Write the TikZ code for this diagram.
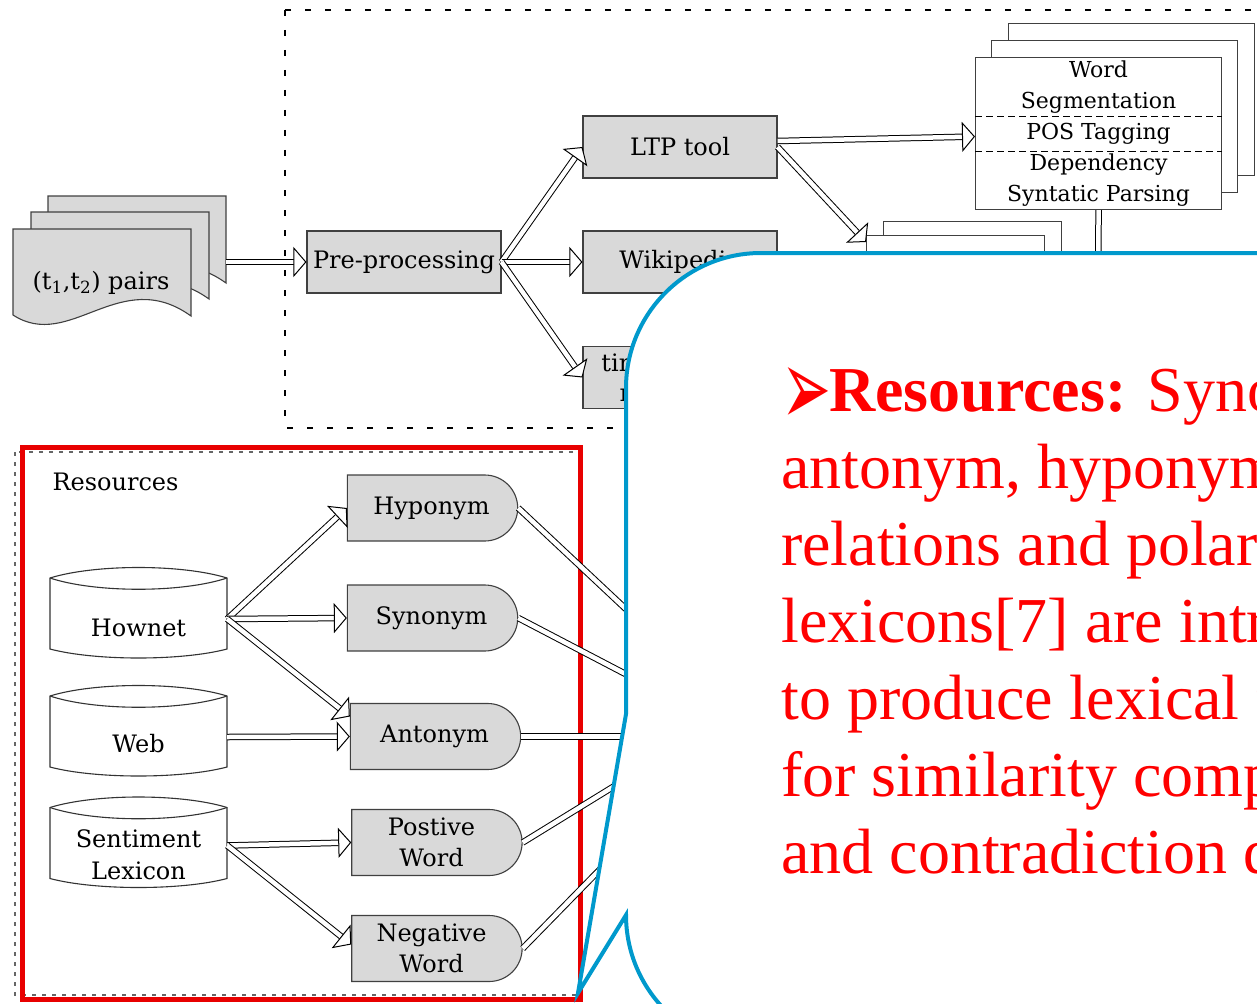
\documentclass[tikz,border=0pt]{standalone}
\usepackage{fontspec}
\setmainfont{DejaVu Serif}
\newfontfamily\timesfont{Liberation Serif}
\newfontfamily\dingfont{DejaVu Sans}
\usepackage{tikz}
\usetikzlibrary{arrows.meta}
\usetikzlibrary{shapes.misc}
\definecolor{boxgray}{RGB}{217,217,217}
\definecolor{calloutblue}{RGB}{0,153,204}
\definecolor{resred}{RGB}{232,0,0}

\tikzset{
  graybox/.style={rectangle, fill=boxgray, draw=black!75, line width=1.1pt,
    minimum width=194pt, minimum height=62pt, align=center,
    font=\fontsize{24}{30}\selectfont},
  whitebox/.style={rectangle, fill=white, draw=black!75, line width=1.1pt},
  dshape/.style={rounded rectangle, rounded rectangle west arc=none,
    fill=boxgray, draw=black!75, line width=1.1pt,
    minimum width=177pt, minimum height=66pt, align=center,
    font=\fontsize{24}{31}\selectfont},
  hollow/.style={double=white, double distance=4.5pt, line width=1pt,
    -{Triangle[fill=white, length=13pt, width=30pt]}},
  twoline/.style={double=white, double distance=4.5pt, line width=1pt},
}

\begin{document}
\begin{tikzpicture}[x=1pt, y=-1pt]
  \useasboundingbox (0,0) rectangle (1257,1003);
  \clip (0,0) rectangle (1257,1003);

  \draw[line width=2.5pt, dash pattern=on 6pt off 14pt] (285,10) rectangle (1300,428);

  \foreach \dx/\dy in {35/-33, 18/-17, 0/0}{
    \begin{scope}[shift={(\dx,\dy)}]
      \draw[fill=boxgray, draw=black!75, line width=1.1pt] (13,229) -- (191,229) -- (191,316)
        .. controls (120,265) and (70,352) .. (13,315) -- cycle;
    \end{scope}
  }
  \node[font=\fontsize{24}{30}\selectfont] (pairs) at (101,283) {(t\textsubscript{1},t\textsubscript{2}) pairs};
  \coordinate (docs) at (226,262);

  \node[graybox] (pre) at (404,262) {Pre-processing};
  \node[graybox] (ltp) at (680,147) {LTP tool};
  \node[graybox] (wiki) at (680,262) {Wikipedia};
  \node[graybox] (norm) at (680,377.5) {time/number\\normalize};

  \node[whitebox, minimum width=246pt, minimum height=152pt, anchor=north west] (ws-b2) at (1008,23) {};
  \node[whitebox, minimum width=246pt, minimum height=152pt, anchor=north west] (ws-b1) at (991,40) {};
  \node[whitebox, minimum width=246pt, minimum height=152pt, anchor=north west, inner sep=1pt,
    align=center, font=\fontsize{22}{31}\selectfont] (ws) at (975,57)
    {Word\\Segmentation\\POS Tagging\\Dependency\\Syntatic Parsing};
  \draw[line width=1pt, dash pattern=on 7pt off 4pt] ([yshift=-60pt]ws.north west) -- ([yshift=-60pt]ws.north east);
  \draw[line width=1pt, dash pattern=on 7pt off 4pt] ([yshift=-95pt]ws.north west) -- ([yshift=-95pt]ws.north east);

  \node[whitebox, minimum width=178pt, minimum height=150pt, anchor=north west] (st-b2) at (883,221) {};
  \node[whitebox, minimum width=178pt, minimum height=150pt, anchor=north west] (st-b1) at (866,235) {};
  \node[whitebox, minimum width=178pt, minimum height=150pt, anchor=north west] (st) at (852,251) {};
  \coordinate (ws-down) at (1098,330);

  \draw[hollow] (docs) -- (pre.west);
  \draw[hollow] (pre.east) -- (ltp.west);
  \draw[hollow] (pre.east) -- (wiki.west);
  \draw[hollow] (pre.east) -- (norm.west);
  \draw[hollow] ([yshift=6pt]ltp.east) -- ([yshift=-3pt]ws.west);
  \draw[hollow] (ltp.east) -- ([yshift=-7pt]st-b1.north west);
  \draw[twoline] (ws.south) -- (ws-down);

  \draw[black!60, line width=2pt, dash pattern=on 4pt off 6pt] (15,452) rectangle (581,995);
  \draw[resred, line width=5pt] (22,447) rectangle (580,999);
  \node[anchor=west, font=\fontsize{24}{30}\selectfont] (reslabel) at (49,482) {Resources};

  \foreach \nm/\yc in {hownet/613, web/731, senti/842.5}{
    \draw[fill=white, draw=black!80, line width=1.1pt] (50,\yc-35) -- (50,\yc+36)
      .. controls (95,\yc+48) and (182,\yc+48) .. (227,\yc+36) -- (227,\yc-35)
      .. controls (182,\yc-49) and (95,\yc-49) .. cycle;
    \draw[draw=black!80, line width=1.1pt] (50,\yc-35) .. controls (95,\yc-20) and (182,\yc-20) .. (227,\yc-35);
    \node[minimum width=177pt, minimum height=89pt] (\nm) at (138.5,\yc) {};
  }
  \node[font=\fontsize{24}{30}\selectfont] (hownet-l) at (138.5,628) {Hownet};
  \node[font=\fontsize{24}{30}\selectfont] (web-l) at (138.5,744) {Web};
  \node[font=\fontsize{24}{32}\selectfont, align=center] (senti-l) at (138.5,855) {Sentiment\\Lexicon};

  \node[dshape] (hyp) at (431.5,508) {Hyponym};
  \node[dshape] (syn) at (431.5,618) {Synonym};
  \node[dshape] (ant) at (434.5,736.5) {Antonym};
  \node[dshape] (pos) at (431.5,842.5) {Postive\\Word};
  \node[dshape] (neg) at (431.5,948.5) {Negative\\Word};

  \draw[hollow] ([yshift=-6pt]hownet.east) -- (hyp.west);
  \draw[hollow] ([yshift=-6pt]hownet.east) -- (syn.west);
  \draw[hollow] ([yshift=-6pt]hownet.east) -- ([yshift=20pt]ant.west);
  \draw[hollow] ([yshift=-6pt]web.east) -- (ant.west);
  \draw[hollow] ([yshift=-3pt]senti.east) -- (pos.west);
  \draw[hollow] ([yshift=-3pt]senti.east) -- ([yshift=4pt]neg.west);

  \coordinate (hyp-out) at (660,641);
  \coordinate (syn-out) at (660,692);
  \coordinate (ant-out) at (660,736.5);
  \coordinate (pos-out) at (660,758);
  \coordinate (neg-out) at (660,808);
  \draw[twoline] (hyp.east) -- (hyp-out);
  \draw[twoline] (syn.east) -- (syn-out);
  \draw[twoline] (ant.east) -- (ant-out);
  \draw[twoline] (pos.east) -- (pos-out);
  \draw[twoline] (neg.east) -- (neg-out);

  \draw[calloutblue, line width=4pt, fill=white] (1270,253) -- (761,253)
    arc[start angle=-90, end angle=-180, radius=135] -- (626,714) -- (578,993) -- (626,915)
    arc[start angle=180, end angle=90, radius=135] -- (1270,1050);
  \node[anchor=north west, inner sep=0pt, align=left, text=red,
    font=\timesfont\fontsize{64}{77}\selectfont] (note) at (781,369)
    {\makebox[48pt][l]{\smash{\raisebox{-14pt}{\resizebox{50pt}{58pt}{\dingfont ➢}}}}\textbf{Resources:} Synonym,\\
     antonym, hyponym\\
     relations and polarity\\
     lexicons[7] are introduced\\
     to produce lexical features\\
     for similarity computation\\
     and contradiction detection.};
\end{tikzpicture}
\end{document}
